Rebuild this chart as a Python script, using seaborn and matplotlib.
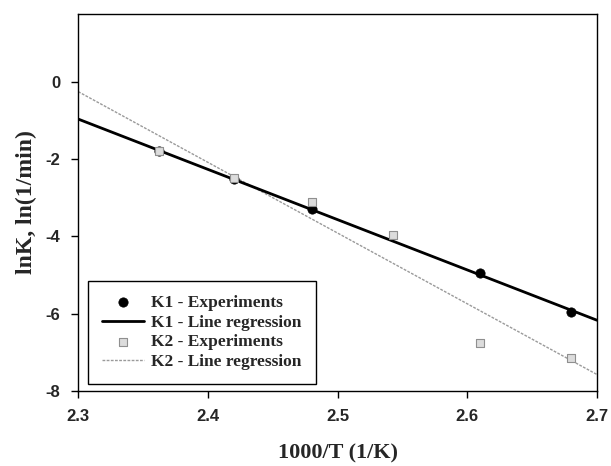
import numpy as np
import pandas as pd
import matplotlib
matplotlib.use("Agg")
import matplotlib.pyplot as plt
import seaborn as sns

# Rate constants vs. inverse temperature
k1_x = [2.362, 2.420, 2.480, 2.610, 2.680]
k1_lnk = [-1.80, -2.50, -3.30, -4.95, -5.95]
k2_x = [2.362, 2.420, 2.480, 2.543, 2.610, 2.680]
k2_lnk = [-1.78, -2.48, -3.10, -3.95, -6.75, -7.15]

x_ticks = [2.3, 2.4, 2.5, 2.6, 2.7]
y_ticks = [0, -2, -4, -6, -8]

sns.set_theme(style="white")
plt.rcParams["font.family"] = ["Liberation Serif", "DejaVu Serif"]

fig = plt.figure(figsize=(6.11, 4.66), dpi=100)
ax = fig.add_axes([0.128, 0.161, 0.849, 0.809])

# Linear regressions over the full axis range
x_fit = np.array([2.3, 2.7])
p1 = np.polyfit(k1_x, k1_lnk, 1)
p2 = np.polyfit(k2_x, k2_lnk, 1)
fit1 = pd.DataFrame({"x": x_fit, "y": np.polyval(p1, x_fit)})
fit2 = pd.DataFrame({"x": x_fit, "y": np.polyval(p2, x_fit)})

sns.lineplot(data=fit2, x="x", y="y", ax=ax, color="#9a9a9a", lw=1.0,
             linestyle=(0, (2, 1)), label="K2 - Line regression", zorder=2)
sns.lineplot(data=fit1, x="x", y="y", ax=ax, color="black", lw=2.0,
             label="K1 - Line regression", zorder=3)
sns.scatterplot(x=k1_x, y=k1_lnk, ax=ax, color="black", s=45, marker="o",
                edgecolor="black", linewidth=0.5, label="K1 - Experiments", zorder=4)
sns.scatterplot(x=k2_x, y=k2_lnk, ax=ax, color="#dcdcdc", s=32, marker="s",
                edgecolor="#8f8f8f", linewidth=0.8, label="K2 - Experiments", zorder=5)

ax.set_xlim(2.3, 2.7)
ax.set_ylim(-8, 1.76)
ax.set_xticks(x_ticks)
ax.set_yticks(y_ticks)
ax.set_xticklabels([f"{v:.1f}" for v in x_ticks], family="Liberation Sans",
                   fontweight="bold", fontsize=12)
ax.set_yticklabels([f"{v:d}" for v in y_ticks], family="Liberation Sans",
                   fontweight="bold", fontsize=12)
ax.tick_params(axis="both", direction="out", length=5, width=1, color="black",
               bottom=True, left=True, pad=8)

for side in ["left", "bottom", "top", "right"]:
    ax.spines[side].set_color("black")
    ax.spines[side].set_linewidth(1.0)

ax.set_xlabel("1000/T (1/K)", fontsize=16, fontweight="bold", labelpad=14)
ax.set_ylabel("lnK, ln(1/min)", fontsize=17, fontweight="bold", labelpad=6)

handles, labels = ax.get_legend_handles_labels()
order = ["K1 - Experiments", "K1 - Line regression", "K2 - Experiments", "K2 - Line regression"]
hmap = dict(zip(labels, handles))
leg = ax.legend([hmap[o] for o in order], order, loc="lower left",
                bbox_to_anchor=(0.019, 0.019), borderaxespad=0,
                frameon=True, fancybox=False,
                edgecolor="black", framealpha=1, handlelength=2.4,
                borderpad=0.8, labelspacing=0.2, handletextpad=0.45,
                prop={"family": "Liberation Serif", "weight": "bold", "size": 12.5})
leg.get_frame().set_linewidth(1.0)

fig.savefig("out.png", dpi=100)
